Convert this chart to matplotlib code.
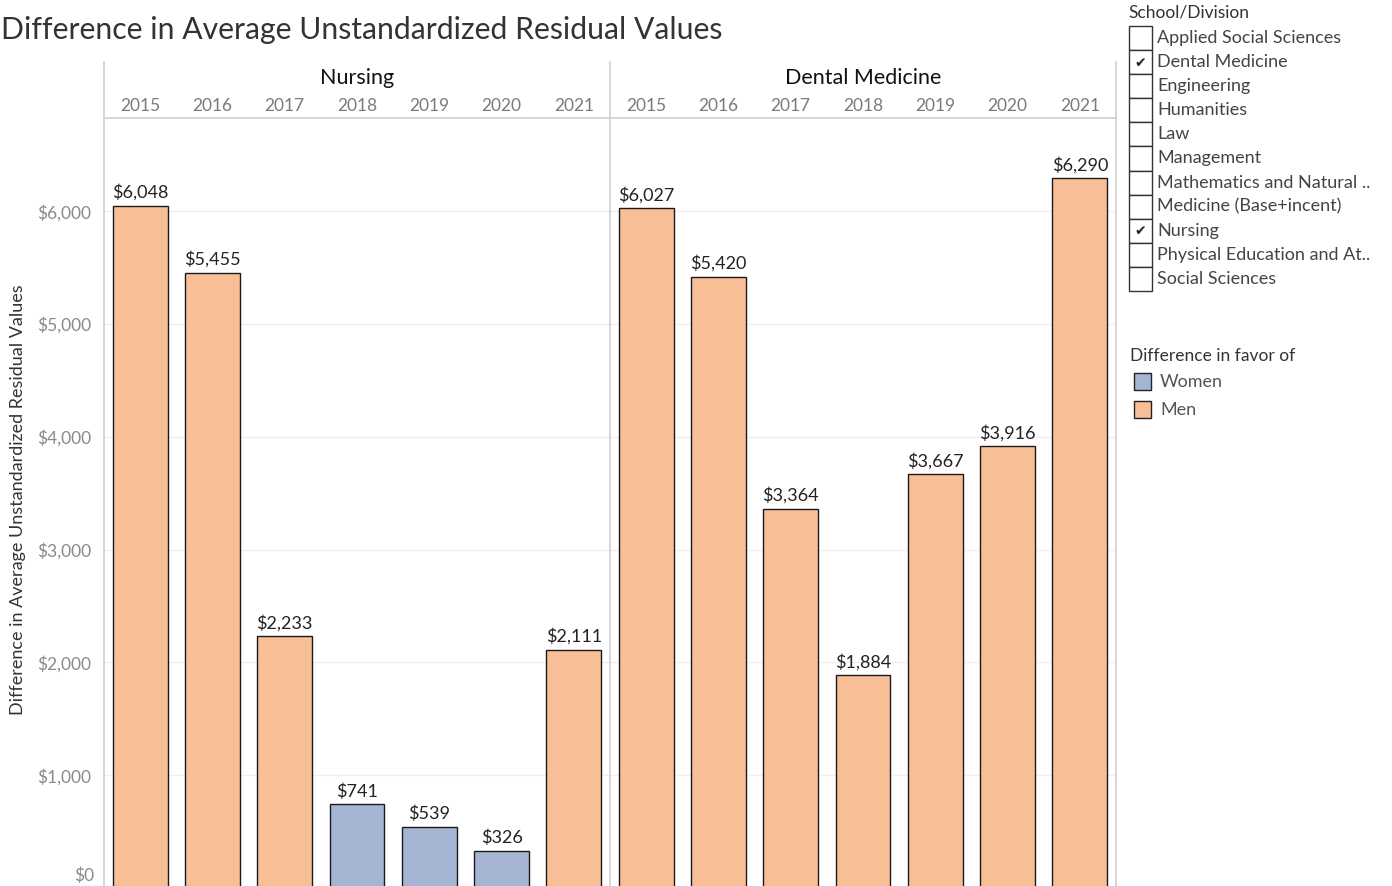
import matplotlib.pyplot as plt
from matplotlib.patches import Rectangle
from matplotlib.lines import Line2D

plt.rcParams['font.family'] = ['Lato', 'DejaVu Sans']

# ---- data ----
YEARS = ["2015", "2016", "2017", "2018", "2019", "2020", "2021"]

NURSING_DIFF = [6048, 5455, 2233, 741, 539, 326, 2111]
NURSING_FAVOR = ["Men", "Men", "Men", "Women", "Women", "Women", "Men"]

DENTAL_DIFF = [6027, 5420, 3364, 1884, 3667, 3916, 6290]
DENTAL_FAVOR = ["Men", "Men", "Men", "Men", "Men", "Men", "Men"]

SCHOOLS = [
    "Applied Social Sciences",
    "Dental Medicine",
    "Engineering",
    "Humanities",
    "Law",
    "Management",
    "Mathematics and Natural ..",
    "Medicine (Base+incent)",
    "Nursing",
    "Physical Education and At..",
    "Social Sciences",
]
SELECTED = ["Dental Medicine", "Nursing"]

YTICKS = [1000, 2000, 3000, 4000, 5000, 6000]

COLORS = {"Women": "#a6b4d4", "Men": "#f8bf97"}

# ---- layout (pixels) ----
W, H = 1392, 886
fig = plt.figure(figsize=(W / 100, H / 100), dpi=100)


def fx(px):
    return px / W


def fy(py):
    return 1 - py / H


X_LEFT, X_MID, X_RIGHT = 104, 610, 1116
Y_HEAD_TOP, Y_HEAD_BOT = 62, 118

# value scale: $0 sits just below the bottom edge
PX_PER_K = 112.8
Y_ZERO = 888
ylim = ((Y_ZERO - H) / PX_PER_K * 1000, (Y_ZERO - Y_HEAD_BOT) / PX_PER_K * 1000)

panels = [("Nursing", NURSING_DIFF, NURSING_FAVOR, X_LEFT, X_MID),
          ("Dental Medicine", DENTAL_DIFF, DENTAL_FAVOR, X_MID, X_RIGHT)]

axes = []
for name, vals, favor, x0, x1 in panels:
    ax = fig.add_axes([fx(x0), 0, fx(x1 - x0), (H - Y_HEAD_BOT) / H])
    xs = list(range(len(YEARS)))
    ax.bar(xs, vals, width=0.76, color=[COLORS[f] for f in favor],
           edgecolor="#1a1a1a", linewidth=1.0, zorder=3)
    for x, v in zip(xs, vals):
        ax.annotate(f"${v:,}", (x, v), xytext=(0, 3.5), textcoords="offset points",
                    ha="center", va="bottom", fontsize=13, color="#222222")
    ax.set_xlim(-0.5, len(YEARS) - 0.5)
    ax.set_ylim(*ylim)
    ax.set_yticks(YTICKS)
    ax.grid(axis="y", color="#efefef", linewidth=1, zorder=0)
    ax.set_xticks([])
    ax.tick_params(axis="y", length=0, labelsize=12.5, labelcolor="#8a8a8a", pad=9)
    for s in ax.spines.values():
        s.set_visible(False)
    # panel header
    fig.text(fx((x0 + x1) / 2), fy(78), name, ha="center", va="center",
             fontsize=15.5, color="#111111")
    slot = (x1 - x0) / len(YEARS)
    for i, yr in enumerate(YEARS):
        fig.text(fx(x0 + slot * (i + 0.5)), fy(106), yr, ha="center", va="center",
                 fontsize=12.5, color="#7a7a7a")
    axes.append(ax)

axes[0].yaxis.set_major_formatter(lambda v, p: f"${v:,.0f}")
axes[1].set_yticklabels([])
fig.text(fx(94), fy(884), "$0", ha="right", va="bottom", fontsize=12.5, color="#8a8a8a")

axes[0].set_ylabel("Difference in Average Unstandardized Residual Values",
                   fontsize=13, color="#333333")
axes[0].yaxis.set_label_coords((26 - X_LEFT) / (X_MID - X_LEFT),
                               (H - 500) / (H - Y_HEAD_BOT))

# frame lines
for xl in (X_LEFT, X_MID, X_RIGHT):
    fig.add_artist(Line2D([fx(xl), fx(xl)], [fy(Y_HEAD_TOP), 0], color="#d0d0d0", lw=1.2))
fig.add_artist(Line2D([fx(X_LEFT), fx(X_RIGHT)], [fy(Y_HEAD_BOT), fy(Y_HEAD_BOT)],
                      color="#d0d0d0", lw=1.2))

# title
fig.text(fx(1), fy(30), "Difference in Average Unstandardized Residual Values",
         ha="left", va="center", fontsize=21.7, color="#333333")

# school filter list
fig.text(fx(1128), fy(13), "School/Division", ha="left", va="center",
         fontsize=12.5, color="#333333")
for i, sch in enumerate(SCHOOLS):
    top = 26 + i * 24.1
    fig.add_artist(Rectangle((fx(1129), fy(top + 24)), fx(23), 24 / H,
                             facecolor="white", edgecolor="#333333", lw=1.0))
    if sch in SELECTED:
        fig.text(fx(1140.5), fy(top + 12.5), "\u2714", ha="center", va="center",
                 fontsize=10, color="#222222", family="DejaVu Sans")
    fig.text(fx(1157), fy(top + 12), sch, ha="left", va="center",
             fontsize=13, color="#444444")

# color legend
fig.text(fx(1130), fy(356), "Difference in favor of", ha="left", va="center",
         fontsize=12.5, color="#333333")
for i, lab in enumerate(["Women", "Men"]):
    top = 373 + i * 28
    fig.add_artist(Rectangle((fx(1134), fy(top + 17)), fx(17), 17 / H,
                             facecolor=COLORS[lab], edgecolor="#222222", lw=1.0))
    fig.text(fx(1160), fy(top + 9), lab, ha="left", va="center",
             fontsize=13, color="#555555")

fig.savefig("out.png", dpi=100)
